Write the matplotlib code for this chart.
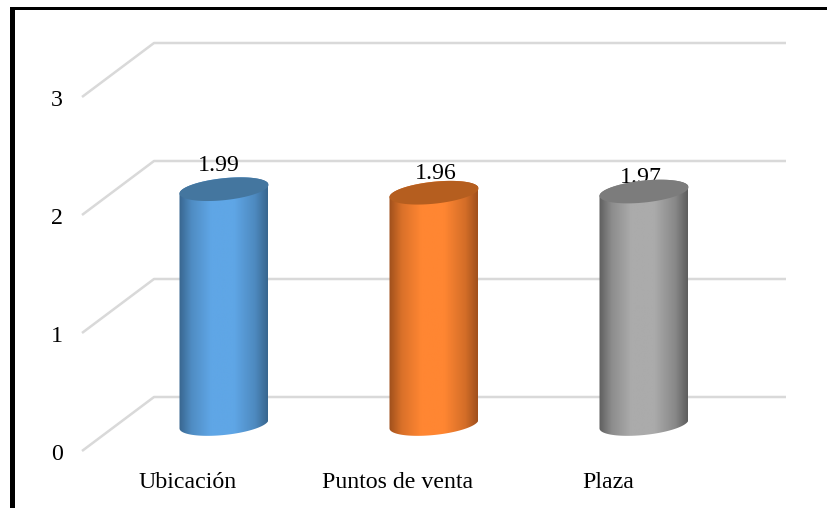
import numpy as np
import matplotlib
matplotlib.use('Agg')
import matplotlib.pyplot as plt
from matplotlib.colors import LinearSegmentedColormap, to_rgb
from matplotlib.patches import PathPatch, Rectangle
from matplotlib.path import Path

categories = ['Ubicación', 'Puntos de venta', 'Plaza']
values = [1.99, 1.96, 1.97]
y_ticks = [0, 1, 2, 3]

edge_colors = ['#38668f', '#a0501c', '#5e5e5e']
mid_colors = ['#5fa6e6', '#ff8632', '#ababab']
top_colors = ['#44769f', '#b55e1f', '#7c7c7c']
label_offsets = [(-5, 24), (2, 19), (-3, 14)]

W, H = 828, 508
UNIT = 118.0      # pixels per y unit
STEP = 210.0      # pixels between categories
DEPTH_X = 72.0 / STEP
DEPTH_Y = 54.0 / UNIT
HALF_W = 44.5 / STEP
ELL_B = 11.0 / UNIT
ELL_TILT = 4.4 / UNIT

plt.rcParams['font.family'] = ['Liberation Serif', 'DejaVu Serif']

fig = plt.figure(figsize=(W / 100, H / 100), dpi=100, facecolor='white')
ax = fig.add_axes([0, 0, 1, 1])
ax.axis('off')
xlim = (-224 / STEP, (W - 224) / STEP)
ylim = ((451 - H) / UNIT, 451 / UNIT)


def ellipse(cx, cy, t):
    # sheared ellipse, right side sits a little higher than the left
    return cx + HALF_W * np.cos(t), cy + ELL_B * np.sin(t) + ELL_TILT * np.cos(t)


def blend(c1, c2, f):
    a, b = np.array(to_rgb(c1)), np.array(to_rgb(c2))
    return tuple(a + (b - a) * f)


# gridlines run along the floor depth and then the back wall
front_x = -142 / STEP
for tick in y_ticks:
    ax.plot([front_x, front_x + DEPTH_X, 562 / STEP],
            [tick, tick + DEPTH_Y, tick + DEPTH_Y],
            color='#d9d9d9', lw=1.8, solid_capstyle='butt', zorder=1)
    ax.text(-167 / STEP, tick - 3 / UNIT, str(tick), fontsize=17.2, color='black',
            ha='center', va='center', zorder=2)

for i, (name, value) in enumerate(zip(categories, values)):
    cx = i
    base = DEPTH_Y / 2
    top = base + value

    off_x, off_y = label_offsets[i]
    ax.annotate(f'{value:.2f}', (cx, top), xytext=(off_x * 0.72, off_y * 0.72),
                textcoords='offset points', fontsize=17.2, color='black',
                ha='center', va='center', zorder=2)
    ax.text(cx - DEPTH_X / 2, -32 / UNIT, name, fontsize=17.2, color='black',
            ha='center', va='center', zorder=2)

    # cylinder side: lower half of the base ellipse, upper half of the top one
    t_low = np.linspace(np.pi, 0, 60)
    t_up = np.linspace(0, np.pi, 60)
    bx, by = ellipse(cx, base, -t_low)
    ux, uy = ellipse(cx, top, t_up)
    side = Path(np.column_stack([np.r_[bx, ux], np.r_[by, uy]]))
    edge, mid = edge_colors[i], mid_colors[i]
    cmap = LinearSegmentedColormap.from_list(
        f'side{i}', [(0, edge), (0.14, blend(edge, mid, 0.6)), (0.36, mid),
                     (0.62, mid), (0.86, blend(edge, mid, 0.55)), (1, edge)])
    shade = np.linspace(0, 1, 200)
    im = ax.imshow(shade[None, :], cmap=cmap, aspect='auto', zorder=3,
                   extent=(cx - HALF_W, cx + HALF_W, base - 0.2, top + 0.2),
                   interpolation='bilinear')
    patch = PathPatch(side, transform=ax.transData, fc='none', ec='none')
    ax.add_patch(patch)
    im.set_clip_path(patch)

    # top cap
    t = np.linspace(0, 2 * np.pi, 120)
    tx, ty = ellipse(cx, top, t)
    ax.fill(tx, ty, color=top_colors[i], lw=0, zorder=4)

ax.set_xlim(*xlim)
ax.set_ylim(*ylim)

# thick black rule on the top and left edges
fig.add_artist(Rectangle((10 / W, 1 - 10 / H), 1, 3 / H, transform=fig.transFigure,
                         fc='black', ec='none'))
fig.add_artist(Rectangle((10 / W, 0), 5 / W, 1 - 7 / H, transform=fig.transFigure,
                         fc='black', ec='none'))

fig.savefig('out.png', dpi=100)
